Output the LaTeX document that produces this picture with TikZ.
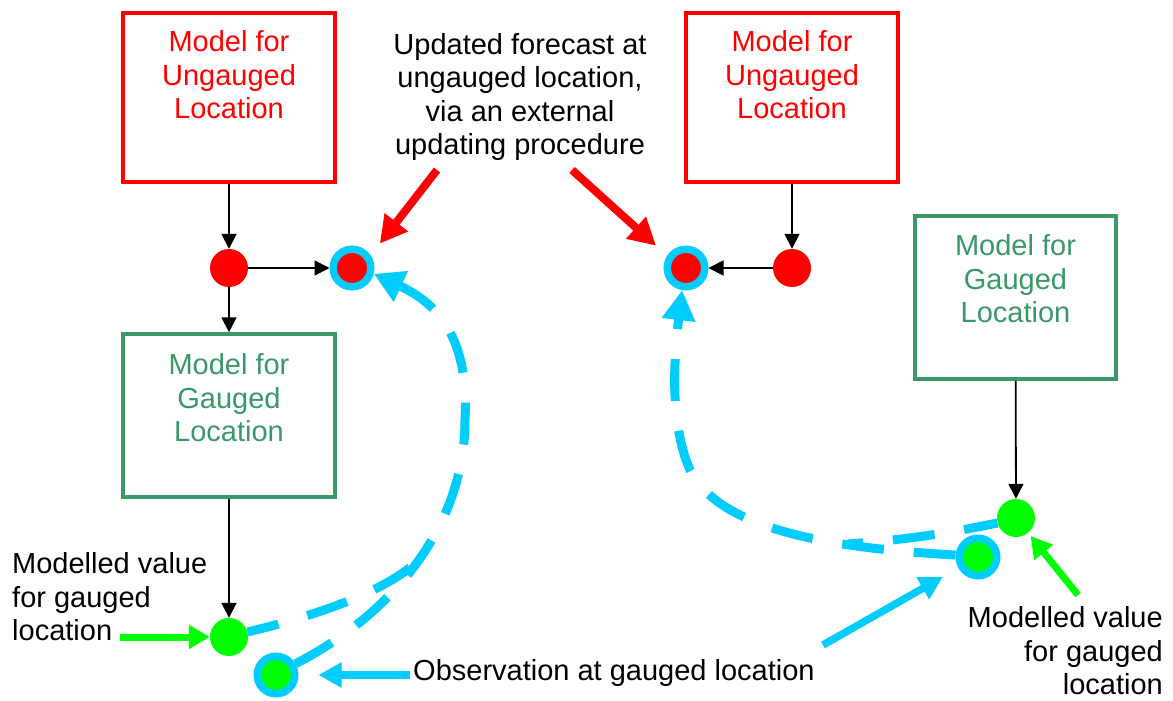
\documentclass[tikz,border=0pt]{standalone}
\usepackage{fontspec}
\setmainfont{Liberation Sans}
\usetikzlibrary{arrows.meta}
\definecolor{gaugegreen}{RGB}{58,152,104}
\definecolor{obscyan}{RGB}{0,204,255}
\definecolor{valgreen}{RGB}{0,255,0}

\begin{document}
\begin{tikzpicture}[x=1pt,y=-1pt,
  lbl/.style={font=\fontsize{29}{33.4}\selectfont, inner sep=0pt, align=center},
  modelbox/.style={draw, line width=3.5pt, minimum width=212pt, inner sep=0pt},
  ungauged/.style={modelbox, draw=red, minimum height=169pt},
  gauged/.style={modelbox, draw=gaugegreen, minimum height=163pt},
  reddot/.style={circle, fill=red, minimum size=38pt, inner sep=0pt},
  greendot/.style={circle, fill=valgreen, minimum size=38pt, inner sep=0pt},
  obsring/.style={circle, draw=obscyan, line width=7.5pt, minimum size=37.5pt, inner sep=0pt},
  flow/.style={line width=1.8pt, -{Triangle[length=15pt,width=15pt]}},
  redpointer/.style={draw=red, line width=8pt, -{Triangle[length=27pt,width=28pt]}},
  greenpointer/.style={draw=valgreen, line width=7pt, -{Triangle[length=21pt,width=23pt]}},
  cyanpointer/.style={draw=obscyan, line width=7.5pt, -{Triangle[length=23pt,width=24pt]}},
  update/.style={draw=obscyan, line width=9pt, dash pattern=on 42pt off 30pt},
  updatetip/.style={update, -{Triangle[length=30pt,width=32pt]}},
]
\path[use as bounding box] (0,0) rectangle (1173,701);

% model boxes and their captions
\node[ungauged] (ubL) at (229,97.5) {};
\node[lbl, text=red] (ubLt) at (229,75) {Model for\\Ungauged\\Location};
\node[ungauged] (ubR) at (792,97.5) {};
\node[lbl, text=red] (ubRt) at (792,75) {Model for\\Ungauged\\Location};
\node[gauged] (gbL) at (229,415.5) {};
\node[lbl, text=gaugegreen] (gbLt) at (229,398) {Model for\\Gauged\\Location};
\node[gauged, minimum width=201pt] (gbR) at (1015.5,297.5) {};
\node[lbl, text=gaugegreen] (gbRt) at (1015.5,279) {Model for\\Gauged\\Location};

% free text
\node[lbl] (upd) at (520,97) {Updated forecast at\\ungauged location,\\via an external\\updating procedure};
\node[lbl, align=left, anchor=west] (mvL) at (12,597) {Modelled value\\for gauged\\location};
\node[lbl, align=right, anchor=east] (mvR) at (1163,651) {Modelled value\\for gauged\\location};
\node[lbl, anchor=base west] (obsT) at (413,680) {Observation at gauged location};

% values
\node[reddot] (rdL) at (229,268) {};
\node[obsring, fill=red] (fcL) at (352,268) {};
\node[reddot] (rdR) at (792,268) {};
\node[obsring, fill=red] (fcR) at (686,268) {};
\node[greendot] (gdL) at (229,637) {};
\node[obsring, fill=valgreen] (obL) at (276,675) {};
\node[greendot] (gdR) at (1016,518) {};
\node[obsring, fill=valgreen] (obR) at (978,557) {};

% pointer tails
\coordinate (ptL) at (437,170);
\coordinate (ptR) at (572,170);
\coordinate (gpL) at (120,637);
\coordinate (gpR) at (1078,595);
\coordinate (cpL) at (410,675);
\coordinate (cpR) at (823,645);

% model flow
\draw[flow] (ubL.south) -- (rdL.north);
\draw[flow] (rdL) -- (fcL);
\draw[flow] (rdL) -- (gbL.north);
\draw[flow] (gbL.south) -- (gdL.north);
\draw[flow] (ubR.south) -- (rdR.north);
\draw[flow] (rdR) -- (fcR);
\draw[flow] (gbR) -- (gdR);

% annotation pointers
\draw[redpointer, shorten >=15pt] (ptL) -- (fcL.34);
\draw[redpointer, shorten >=15pt] (ptR) -- (fcR.147);
\draw[greenpointer] (gpL) -- (gdL);
\draw[greenpointer, shorten >=4pt] (gpR) -- (gdR);
\draw[cyanpointer, shorten >=20pt] (cpL) -- (obL);
\draw[cyanpointer, shorten >=18pt] (cpR) -- (obR);

% updating paths
\draw[updatetip] (obL.30) .. controls (400,610) and (465,520) .. (465,420)
  .. controls (470,330) and (430,300) .. (fcL.-15);
\draw[update, dash phase=10pt] (gdL.15) .. controls (330,612) and (390,588) .. (420,559);
\draw[updatetip] (obR.175) .. controls (830,548) and (720,530) .. (690,470)
  .. controls (668,420) and (675,350) .. (fcR.-100);
\draw[update, dash phase=8pt] (gdR.195) .. controls (940,535) and (900,540) .. (848,544);
\end{tikzpicture}
\end{document}
